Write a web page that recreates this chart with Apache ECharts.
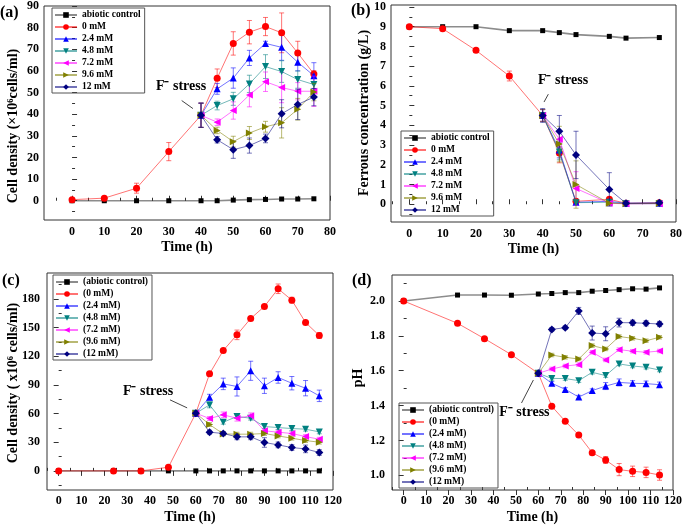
<!DOCTYPE html>
<html><head><meta charset="utf-8">
<script src="https://cdn.jsdelivr.net/npm/echarts@6/dist/echarts.min.js"></script>
<style>html,body{margin:0;padding:0;background:#fff}#c{width:685px;height:526px}</style>
</head><body><div id="c"></div>
<script>
// ---------- Panel (a): cell density ----------
const timeA = [0,10,20,30,40,45,50,55,60,65,70,75];
const a_ctrl = [0,0,0,0,0,0,0.3,0.5,0.6,0.8,0.8,0.9];
const a_0    = [0.5,1.2,5.8,22.7,39.5,56.6,72.7,77.9,80.5,77.6,68.3,58.6];
const a_24   = [null,null,null,null,39.5,51.7,56.7,66,72.7,70.9,64,57.8];
const a_48   = [null,null,null,null,39.5,44,47.1,54,62,59.7,56,53.7];
const a_72   = [null,null,null,null,39.5,36.3,41.7,48.9,55,52.3,50.6,50.6];
const a_96   = [null,null,null,null,39.5,32.5,27.3,31.3,34.2,36,42.3,50.2];
const a_12   = [null,null,null,null,39.5,28.2,23.6,25.5,28.8,40.2,44.5,47.9];
const a_e0   = [0.3,0.5,2.3,4.2,5.6,4.3,5.4,5.4,4.2,9.2,5.4,1.5];
const a_e24  = [null,null,null,null,5.6,2.5,4.7,3.5,1,6,4,6];
const a_e48  = [null,null,null,null,5.6,2,3,4,5.5,5,4,3];
const a_e72  = [null,null,null,null,5.6,1.5,4,5.5,4.5,7,4,7];
const a_e96  = [null,null,null,null,5.6,1.5,2.5,3,2.5,7,5,4];
const a_e12  = [null,null,null,null,5.6,1.5,4,3.5,2,6.5,7,4];

// ---------- Panel (b): ferrous concentration ----------
const timeB = [0,10,20,30,40,45,50,60,65,75];
const b_ctrl = [9.0,9.0,9.0,8.8,8.8,8.7,8.6,8.51,8.42,8.45];
const b_0    = [9.0,8.9,7.8,6.5,4.5,2.6,0.15,0.25,0.05,0.07];
const b_24   = [null,null,null,null,4.5,2.75,0.1,0.15,0.05,0.05];
const b_48   = [null,null,null,null,4.5,2.65,0.08,0.1,0.03,0.03];
const b_72   = [null,null,null,null,4.5,3.3,0.8,0.05,0.02,0.03];
const b_96   = [null,null,null,null,4.5,3.05,1.0,0.05,0.03,0.04];
const b_12   = [null,null,null,null,4.5,3.7,2.5,0.75,0.05,0.07];
const b_e0   = [0.05,0.08,0.1,0.25,0.3,0.5,0.1,0.1,0.03,0.03];
const b_e24  = [null,null,null,null,0.3,0.4,0.1,0.1,0.03,0.03];
const b_e48  = [null,null,null,null,0.3,0.4,0.1,0.1,0.03,0.03];
const b_e72  = [null,null,null,null,0.3,0.4,0.85,0.1,0.03,0.03];
const b_e96  = [null,null,null,null,0.3,0.9,1.2,0.1,0.03,0.03];
const b_e12  = [null,null,null,null,0.35,0.8,1.2,0.85,0.05,0.05];

// ---------- Panel (c): cell density (long run) ----------
const timeC = [0,24,36,48,60,66,72,78,84,90,96,102,108,114];
const c_ctrl = [0,0,0,0,0,0,0,0,0,0,0,0,0,0];
const c_0    = [0,0,0,3.8,60.3,101.5,126,142.3,159.4,172,190.5,178.6,155.2,141.6];
const c_24   = [null,null,null,null,60.3,77.1,91,88.3,104.7,89,97.7,91.7,86.5,78.5];
const c_48   = [null,null,null,null,60.3,69,50.9,56.9,55.1,46.4,45.3,44.3,43.6,40.8];
const c_72   = [null,null,null,null,60.3,54.8,58.6,55.1,57.6,41.9,40.5,39.1,35.9,33.1];
const c_96   = [null,null,null,null,60.3,48.5,38.7,38.4,38.4,39.1,36.6,34.2,31.7,30];
const c_12   = [null,null,null,null,60.3,40.5,39.1,35.6,35.6,29.7,27.2,24.4,23,19.2];
const c_e0   = [1,1,1,1,2,2,2,5,2,2,5,3,2,3];
const c_e24  = [null,null,null,null,2,3,6,10,10,8,6,7,8,6];
const c_e48  = [null,null,null,null,2,3,2,2,2,2,2,2,2,2];
const c_e72  = [null,null,null,null,2,2,3,3,3,2,2,2,2,2];
const c_e96  = [null,null,null,null,2,2,2,2,2,2,2,2,2,2];
const c_e12  = [null,null,null,null,2,2,2,3,3,5,3,3,4,3];

// ---------- Panel (d): pH ----------
const timeD = [0,24,36,48,60,66,72,78,84,90,96,102,108,114];
const d_ctrl = [2.0,2.034,2.034,2.033,2.04,2.043,2.048,2.048,2.056,2.06,2.065,2.07,2.068,2.075];
const d_0    = [2.0,1.872,1.784,1.692,1.585,1.396,1.31,1.231,1.13,1.088,1.033,1.023,1.017,1.002];
const d_24   = [null,null,null,null,1.585,1.528,1.493,1.449,1.486,1.512,1.533,1.528,1.526,1.52];
const d_48   = [null,null,null,null,1.585,1.556,1.555,1.543,1.591,1.572,1.639,1.627,1.62,1.604];
const d_72   = [null,null,null,null,1.585,1.61,1.627,1.635,1.706,1.662,1.721,1.712,1.706,1.713];
const d_96   = [null,null,null,null,1.585,1.69,1.677,1.667,1.744,1.725,1.796,1.786,1.772,1.792];
const d_12   = [null,null,null,null,1.585,1.837,1.847,1.943,1.816,1.812,1.876,1.875,1.872,1.868];
const d_e0   = [0.004,0.005,0.005,0.005,0.005,0.005,0.005,0.005,0.005,0.02,0.035,0.03,0.03,0.03];
const d_e24  = [null,null,null,null,0.005,0.01,0.01,0.01,0.01,0.02,0.02,0.015,0.015,0.015];
const d_e48  = [null,null,null,null,0.005,0.01,0.01,0.01,0.01,0.01,0.01,0.01,0.01,0.01];
const d_e72  = [null,null,null,null,0.005,0.01,0.01,0.01,0.01,0.01,0.01,0.01,0.01,0.01];
const d_e96  = [null,null,null,null,0.005,0.01,0.01,0.01,0.01,0.01,0.01,0.01,0.01,0.01];
const d_e12  = [null,null,null,null,0.005,0.01,0.01,0.02,0.04,0.04,0.025,0.015,0.015,0.015];

// ---------- names & tick labels ----------
const namesAB = ['abiotic control','0 mM','2.4 mM','4.8 mM','7.2 mM','9.6 mM','12 mM'];
const namesCD = ['(abiotic control)','(0 mM)','(2.4 mM)','(4.8 mM)','(7.2 mM)','(9.6 mM)','(12 mM)'];
const xTicksAB = [0,10,20,30,40,50,60,70,80];
const xMinorAB = [-5,5,15,25,35,45,55,65,75];
const xTicksCD = [0,10,20,30,40,50,60,70,80,90,100,110,120];
const xMinorCD = [-5,5,15,25,35,45,55,65,75,85,95,105,115];
const yTicksA = [0,10,20,30,40,50,60,70,80,90];
const yMinorA = [-5,5,15,25,35,45,55,65,75,85];
const yTicksB = [0,1,2,3,4,5,6,7,8,9,10];
const yMinorB = [-0.5,0.5,1.5,2.5,3.5,4.5,5.5,6.5,7.5,8.5,9.5];
const yTicksC = [0,30,60,90,120,150,180];
const yMinorC = [-15,15,45,75,105,135,165,195];
const yTicksD = [1.0,1.2,1.4,1.6,1.8,2.0];
const yMinorD = [1.1,1.3,1.5,1.7,1.9,2.1];

// ---------- styles ----------
const FONT = 'Liberation Serif';
const COLORS = ['#000000','#ff0000','#0000ff','#008080','#ff00ff','#808000','#000080'];
const SYMBOLS = ['rect','circle','triangle','triangle','triangle','triangle','diamond'];
const ROT = [0,0,0,180,90,-90,0];
const SIZES = [5,7,7,7,7,7,8];

const panels = [
  {grid:{left:44,top:5,width:286,height:215}, xr:[-8.7,80], yr:[-8.9,90],
   xt:xTicksAB, xm:xMinorAB, yt:yTicksA, ym:yMinorA, inside:true, yfmt:v=>String(v),
   x:timeA, ys:[a_ctrl,a_0,a_24,a_48,a_72,a_96,a_12], es:[null,a_e0,a_e24,a_e48,a_e72,a_e96,a_e12], names:namesAB,
   legend:{left:52,top:8}, arrow:[[34.0,46.3],[37.5,42.6]], txt:[33.8,52.7]},
  {grid:{left:391,top:5,width:285,height:217}, xr:[-5.5,80], yr:[-0.9,10.1],
   xt:xTicksAB, xm:xMinorAB, yt:yTicksB, ym:yMinorB, inside:true, yfmt:v=>String(v),
   x:timeB, ys:[b_ctrl,b_0,b_24,b_48,b_72,b_96,b_12], es:[null,b_e0,b_e24,b_e48,b_e72,b_e96,b_e12], names:namesAB,
   legend:{left:401,top:131}, arrow:[[41.7,5.58],[40.4,5.18]], txt:[46.1,6.28]},
  {grid:{left:47,top:273,width:286,height:217}, xr:[-5.1,120], yr:[-20,207],
   xt:xTicksCD, xm:xMinorCD, yt:yTicksC, ym:yMinorC, inside:false, yfmt:v=>String(v),
   x:timeC, ys:[c_ctrl,c_0,c_24,c_48,c_72,c_96,c_12], es:[null,c_e0,c_e24,c_e48,c_e72,c_e96,c_e12], names:namesCD,
   legend:{left:53,top:275}, arrow:[[48.7,74.3],[56.2,65.9]], txt:[39.1,82.7]},
  {grid:{left:392,top:275,width:283,height:215}, xr:[-5.2,120], yr:[0.916,2.149],
   xt:xTicksCD, xm:xMinorCD, yt:yTicksD, ym:yMinorD, inside:false, yfmt:v=>v.toFixed(1),
   x:timeD, ys:[d_ctrl,d_0,d_24,d_48,d_72,d_96,d_12], es:[null,d_e0,d_e24,d_e48,d_e72,d_e96,d_e12], names:namesCD,
   legend:{left:399,top:403}, arrow:[[52.5,1.415],[57.8,1.547]], txt:[53.8,1.363]}
];

const labelStyle = {fontFamily:FONT, fontWeight:'bold', fontSize:12, color:'#000'};
const grids=[], xAxes=[], yAxes=[], series=[], legends=[];

panels.forEach((P,p)=>{
  grids.push(Object.assign({show:true, borderColor:'#333', borderWidth:1, backgroundColor:'transparent'}, P.grid));
  xAxes.push({type:'value', gridIndex:p, position:'bottom', min:P.xr[0], max:P.xr[1],
    axisLine:{show:false}, splitLine:{show:false},
    axisTick:{show:true, inside:P.inside, length:5, customValues:P.xt, lineStyle:{color:'#333'}},
    axisLabel:Object.assign({customValues:P.xt, margin:P.inside?6:5}, labelStyle),
    name:'Time (h)', nameLocation:'middle', nameGap:20,
    nameTextStyle:{fontFamily:FONT, fontWeight:'bold', fontSize:14, color:'#000'}});
  xAxes.push({type:'value', gridIndex:p, position:'bottom', min:P.xr[0], max:P.xr[1],
    axisLine:{show:false}, splitLine:{show:false}, axisLabel:{show:false},
    axisTick:{show:true, inside:true, length:3, customValues:P.xm, lineStyle:{color:'#333'}}});
  yAxes.push({type:'value', gridIndex:p, position:'left', min:P.yr[0], max:P.yr[1],
    axisLine:{show:false}, splitLine:{show:false},
    axisTick:{show:true, inside:P.inside, length:5, customValues:P.yt, lineStyle:{color:'#333'}},
    axisLabel:Object.assign({customValues:P.yt, margin:P.inside?5:7, formatter:P.yfmt}, labelStyle)});
  yAxes.push({type:'value', gridIndex:p, position:'left', min:P.yr[0], max:P.yr[1],
    axisLine:{show:false}, splitLine:{show:false}, axisLabel:{show:false},
    axisTick:{show:true, inside:true, length:3, customValues:P.ym, lineStyle:{color:'#333'}}});

  P.ys.forEach((ys,k)=>{
    const data = P.x.map((x,i)=> ys[i]==null ? null : [x, ys[i]]).filter(Boolean);
    const s = {type:'line', name:P.names[k], xAxisIndex:2*p, yAxisIndex:2*p, data,
      symbol:SYMBOLS[k], symbolRotate:ROT[k], symbolSize:SIZES[k], z:3+k,
      itemStyle:{color:COLORS[k], opacity:1},
      lineStyle:{color:COLORS[k], width:k===0?1.6:1, opacity:k===0?0.45:0.55},
      emphasis:{disabled:true}, animation:false};
    if(k===0){
      s.markLine = {silent:true, symbol:['none','arrow'], symbolSize:[0,6], animation:false,
        lineStyle:{color:'#444', width:1, type:'solid', opacity:1}, label:{show:false},
        data:[[{coord:P.arrow[0]},{coord:P.arrow[1]}]]};
      s.markPoint = {silent:true, symbol:'circle', symbolSize:0, animation:false,
        label:{show:true, position:'inside', formatter:'F\u207B stress', fontFamily:FONT, fontWeight:'bold', fontSize:14, color:'#000'},
        data:[{coord:P.txt}]};
    }
    series.push(s);
    const es = P.es[k];
    if(es){
      const col = COLORS[k];
      const edata = P.x.map((x,i)=> (ys[i]==null||es[i]==null) ? null : [x, ys[i]-es[i], ys[i]+es[i]]).filter(Boolean);
      series.push({type:'custom', name:'err'+p+'_'+k, xAxisIndex:2*p, yAxisIndex:2*p, silent:true, z:2+k, animation:false,
        data:edata, encode:{x:0, y:[1,2]},
        renderItem:(params, api)=>{
          const x = api.value(0);
          const lo = api.coord([x, api.value(1)]);
          const hi = api.coord([x, api.value(2)]);
          const w = 2.5, st = {stroke:col, lineWidth:1, opacity:0.55};
          return {type:'group', children:[
            {type:'line', shape:{x1:lo[0],y1:lo[1],x2:hi[0],y2:hi[1]}, style:st},
            {type:'line', shape:{x1:lo[0]-w,y1:lo[1],x2:lo[0]+w,y2:lo[1]}, style:st},
            {type:'line', shape:{x1:hi[0]-w,y1:hi[1],x2:hi[0]+w,y2:hi[1]}, style:st}]};
        }});
    }
  });

  legends.push({data:P.names, orient:'vertical', left:P.legend.left, top:P.legend.top, padding:[2,4,1,2],
    itemWidth:22, itemHeight:7, itemGap:2, borderColor:'#555', borderWidth:1, selectedMode:false,
    textStyle:{fontFamily:FONT, fontWeight:'bold', fontSize:9.5, lineHeight:10, color:'#000'}});
});

const yTitle = (x,y,text)=>({type:'text', x, y, rotation:Math.PI/2,
  style:{text, fontFamily:FONT, fontWeight:'bold', fontSize:14, fill:'#000', textAlign:'center', textVerticalAlign:'middle'}});
const tag = (x,y,text)=>({type:'text', x, y,
  style:{text, fontFamily:FONT, fontWeight:'bold', fontSize:16, fill:'#000', textAlign:'left', textVerticalAlign:'middle'}});

const chart = echarts.init(document.getElementById('c'), null, {renderer:'canvas'});
chart.setOption({
  animation:false,
  grid:grids, xAxis:xAxes, yAxis:yAxes, legend:legends, series,
  graphic:[
    yTitle(13,126,'Cell density (\u00D710\u2076cells/ml)'),
    yTitle(364,113,'Ferrous concentration (g/L)'),
    yTitle(13,383,'Cell density ( x10\u2076 cells/ml)'),
    yTitle(358,378,'pH'),
    tag(0,13,'(a)'), tag(351,11,'(b)'), tag(2,281,'(c)'), tag(352,281,'(d)')
  ]
});
</script></body></html>
